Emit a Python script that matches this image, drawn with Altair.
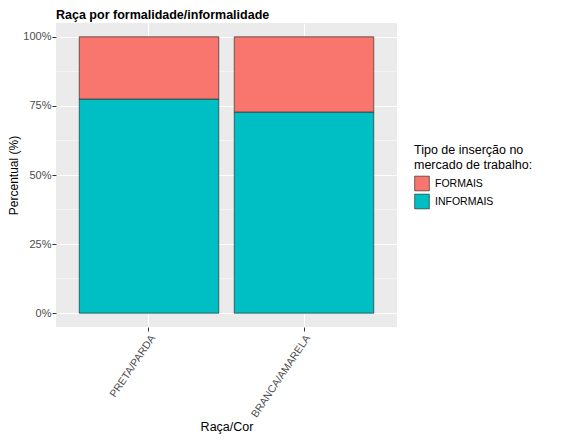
import altair as alt
import pandas as pd

raca = ["PRETA/PARDA", "BRANCA/AMARELA"]
informais = [0.774, 0.727]
formais = [0.226, 0.273]
tipos = ["FORMAIS", "INFORMAIS"]
cores = ["#F8766D", "#00BFC4"]
major_ticks = [0, 0.25, 0.5, 0.75, 1.0]
minor_ticks = [0.125, 0.375, 0.625, 0.875]

rows = []
for r, inf, frm in zip(raca, informais, formais):
    rows.append({"raca": r, "tipo": "FORMAIS", "pct": frm})
    rows.append({"raca": r, "tipo": "INFORMAIS", "pct": inf})
df = pd.DataFrame(rows)
minor_df = pd.DataFrame({"v": minor_ticks})

FONT = "Liberation Sans"

yscale = alt.Scale(domain=[-0.05, 1.05], nice=False, zero=False)

minor = alt.Chart(minor_df).mark_rule(color="white", strokeWidth=0.55).encode(
    y=alt.Y("v:Q", scale=yscale)
)

bars = alt.Chart(df).mark_bar(stroke="#1a1a1a", strokeWidth=0.6).encode(
    x=alt.X(
        "raca:N",
        sort=raca,
        title="Raça/Cor",
        scale=alt.Scale(paddingInner=0.1, paddingOuter=0.15),
        axis=alt.Axis(
            labelAngle=304,
            labelAlign="right",
            labelBaseline="top",
            labelPadding=2,
            labelFontSize=10.5,
            bandPosition=0.5,
            grid=True,
            titlePadding=1,
        ),
    ),
    y=alt.Y(
        "pct:Q",
        stack="zero",
        scale=yscale,
        title="Percentual (%)",
        axis=alt.Axis(values=major_ticks, format=".0%", labelPadding=1, titlePadding=2,
                      titleFontSize=12),
    ),
    color=alt.Color(
        "tipo:N",
        scale=alt.Scale(domain=tipos, range=cores),
        legend=alt.Legend(
            title=["Tipo de inserção no", "mercado de trabalho:"],
            orient="none",
            legendX=358,
            legendY=121,
            symbolType="square",
            symbolSize=215,
            symbolStrokeColor="#1a1a1a",
            symbolStrokeWidth=0.6,
            rowPadding=0,
            labelOffset=5,
            titlePadding=4,
        ),
    ),
    order=alt.Order("tipo:N", sort="descending"),
)

chart = (
    alt.layer(minor, bars)
    .properties(
        width=341,
        height=304,
        title=alt.TitleParams(
            "Raça por formalidade/informalidade",
            anchor="start",
            frame="group",
            fontSize=12.5,
            fontWeight="bold",
            font=FONT,
            color="black",
            offset=2,
        ),
        autosize=alt.AutoSizeParams(type="none"),
        padding={"left": 48, "top": 15, "right": 166, "bottom": 108},
    )
    .configure_view(fill="#EBEBEB", stroke=None)
    .configure_axis(
        domain=False,
        gridColor="white",
        gridWidth=1.1,
        tickColor="#333333",
        tickSize=4,
        tickWidth=1,
        labelColor="#4D4D4D",
        labelFont=FONT,
        labelFontSize=11,
        titleFont=FONT,
        titleFontSize=12.5,
        titleFontWeight="normal",
        titleColor="black",
    )
    .configure_legend(
        titleFont=FONT,
        titleFontSize=12.5,
        titleFontWeight="normal",
        titleColor="black",
        titleLineHeight=15,
        labelFont=FONT,
        labelFontSize=10.5,
        labelColor="black",
    )
)

chart.save("out.html", embed_options={"renderer": "svg", "actions": False})
